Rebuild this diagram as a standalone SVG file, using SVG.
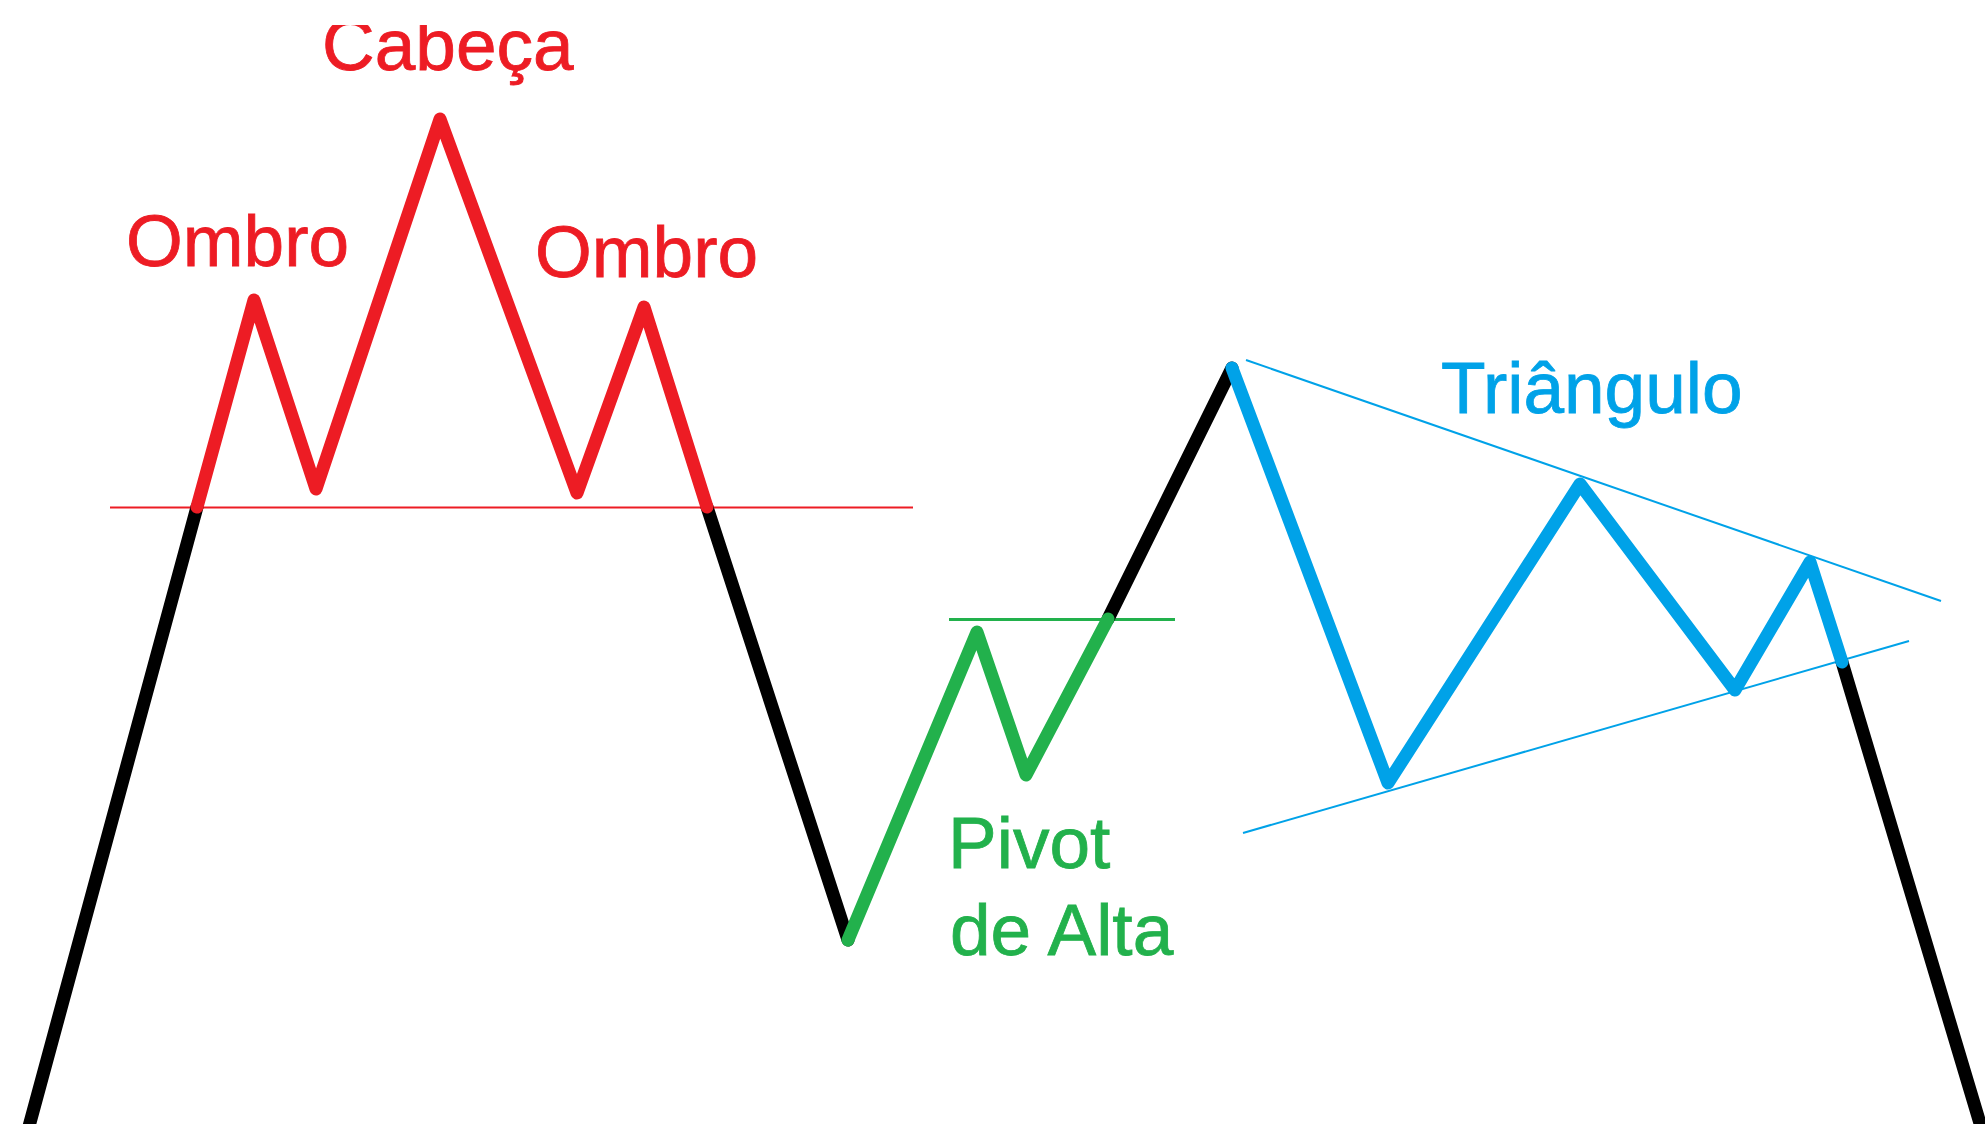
<svg xmlns="http://www.w3.org/2000/svg" width="1985" height="1124" viewBox="0 0 1985 1124">
<style>
.thick{fill:none;stroke-width:13;stroke-linejoin:round;stroke-linecap:round}
.k{stroke:#000}
.r{stroke:#ED1C24}
.g{stroke:#22B14C}
.b{stroke:#00A2E8}
.lbl{font-family:"Liberation Sans",Arial,sans-serif;font-size:73px;stroke-width:0.8px}
</style>
<defs>
<clipPath id="topclip"><rect x="0" y="25" width="1985" height="1099"/></clipPath>
</defs>
<rect x="0" y="0" width="1985" height="1124" fill="#fff"/>
<g id="connectors">
<line x1="110" y1="507.5" x2="913" y2="507.5" stroke="#ED1C24" stroke-width="2"/>
<line x1="949" y1="619.5" x2="1175" y2="619.5" stroke="#22B14C" stroke-width="3"/>
<line x1="1246" y1="360" x2="1941" y2="601" stroke="#00A2E8" stroke-width="2"/>
<line x1="1243" y1="833" x2="1909" y2="641" stroke="#00A2E8" stroke-width="2"/>
<polyline class="thick k" points="28,1130 197,507"/>
<polyline class="thick k" points="707,507 848,940"/>
<polyline class="thick k" points="1108,619 1232,368"/>
<polyline class="thick k" points="1842,662 1982,1130"/>
<polyline class="thick r" points="197,507 254,300 316,489 440,119 577,493 644,307 707,507"/>
<polyline class="thick g" points="848,940 977,632 1026,775 1108,619"/>
<polyline class="thick b" points="1232,368 1388,783 1580,484 1735,690 1810,562 1842,662"/>
</g>
<g id="cabeca"><text class="lbl" x="322" y="70" fill="#ED1C24" stroke="#ED1C24" clip-path="url(#topclip)">Cabeça</text></g>
<g id="ombro-esq"><text class="lbl" x="126" y="266" fill="#ED1C24" stroke="#ED1C24">Ombro</text></g>
<g id="ombro-dir"><text class="lbl" x="535" y="277" fill="#ED1C24" stroke="#ED1C24">Ombro</text></g>
<g id="pivot"><text class="lbl" fill="#22B14C" stroke="#22B14C"><tspan x="948" y="868">Pivot</tspan><tspan x="950" y="955">de Alta</tspan></text></g>
<g id="triangulo"><text class="lbl" x="1441" y="413" fill="#00A2E8" stroke="#00A2E8">Triângulo</text></g>
</svg>
